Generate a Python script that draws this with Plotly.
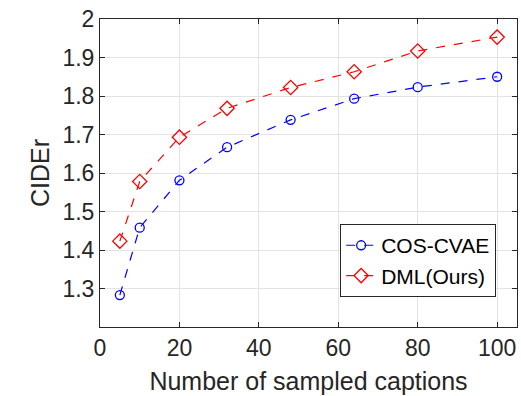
import plotly.graph_objects as go

x_vals = [5, 10, 20, 32, 48, 64, 80, 100]
cos_cvae = [1.283, 1.458, 1.581, 1.667, 1.738, 1.793, 1.823, 1.850]
dml_ours = [1.423, 1.578, 1.693, 1.768, 1.822, 1.863, 1.917, 1.953]
x_ticks = [0, 20, 40, 60, 80, 100]
y_ticks = [1.3, 1.4, 1.5, 1.6, 1.7, 1.8, 1.9, 2]
y_tick_text = ["1.3", "1.4", "1.5", "1.6", "1.7", "1.8", "1.9", "2"]

FONT = "Liberation Sans, Arial, sans-serif"

fig = go.Figure()
fig.add_trace(go.Scatter(
    x=x_vals, y=cos_cvae, name="COS-CVAE", mode="lines+markers",
    line=dict(color="#0000ff", dash="dash", width=1.2),
    marker=dict(symbol="circle-open", size=9, color="#0000ff", line=dict(width=1.3)),
))
fig.add_trace(go.Scatter(
    x=x_vals, y=dml_ours, name="DML(Ours)", mode="lines+markers",
    line=dict(color="#ff0000", dash="dash", width=1.2),
    marker=dict(symbol="diamond-open", size=11, color="#ff0000", line=dict(width=1.3)),
))

axis_common = dict(
    showgrid=True, gridcolor="#e3e3e3", gridwidth=1,
    showline=True, linecolor="#262626", linewidth=1, mirror="ticks",
    ticks="inside", ticklen=5, tickcolor="#262626",
    tickfont=dict(family=FONT, size=23, color="#262626"),
    zeroline=False, automargin=False,
)

fig.update_layout(
    width=521, height=396,
    margin=dict(l=100, r=4, t=19, b=69),
    paper_bgcolor="white", plot_bgcolor="white",
    font=dict(family=FONT, color="#262626"),
    xaxis=dict(range=[0, 105], tickvals=x_ticks,
               title=dict(text="Number of sampled captions", font=dict(size=25), standoff=12),
               **axis_common),
    yaxis=dict(range=[1.2, 2.0], tickvals=y_ticks, ticktext=y_tick_text,
               title=dict(text="CIDEr", font=dict(size=25), standoff=5),
               **axis_common),
    legend=dict(x=0.95, y=0.097, xanchor="right", yanchor="bottom",
                bgcolor="white", bordercolor="#262626", borderwidth=1,
                font=dict(size=21, color="black"), tracegroupgap=0,
                itemwidth=30),
    showlegend=True,
)

fig.write_html("out.html", config={"displayModeBar": False},
               post_script="document.body.style.margin='0';")
